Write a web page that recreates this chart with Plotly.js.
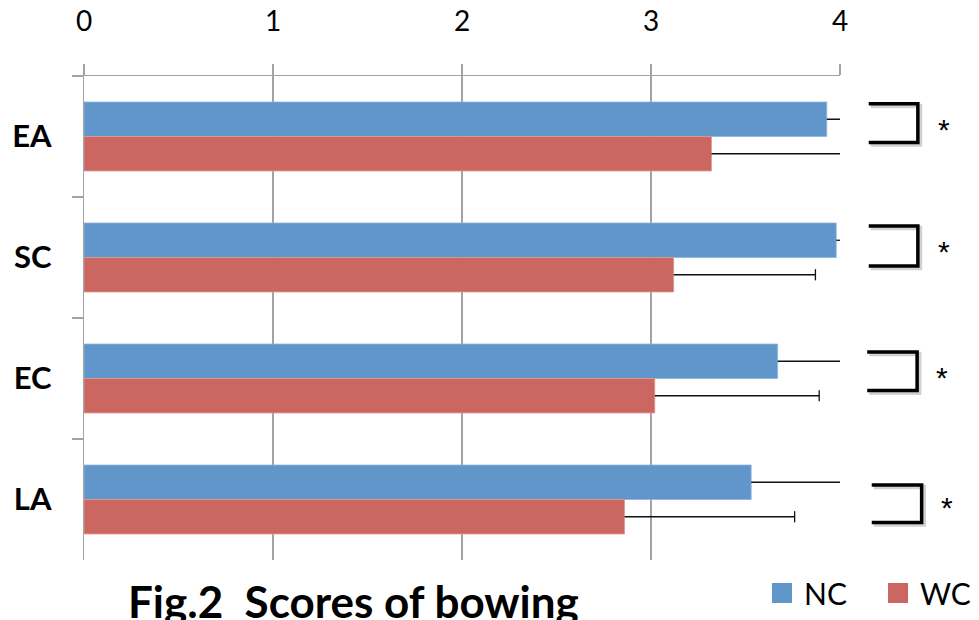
<!DOCTYPE html>
<html>
<head>
<meta charset="utf-8">
<script src="https://cdn.plot.ly/plotly-3.0.1.min.js"></script>
<style>html,body{margin:0;padding:0;background:#fff;}#chart{width:979px;height:620px;}</style>
</head>
<body>
<div id="chart"></div>
<script>
// ---- data ----
const categories = ["EA", "SC", "EC", "LA"];
const ncValues = [3.93, 3.98, 3.67, 3.53];
const wcValues = [3.32, 3.12, 3.02, 2.86];
const ncErrors = [0.25, 0.15, 0.45, 0.55];
const wcErrors = [0.75, 0.75, 0.87, 0.90];
const xTicks = [0, 1, 2, 3, 4];
const seriesNames = ["NC", "WC"];
const sigMarks = ["*", "*", "*", "*"];
const titleText = "Fig.2\u00a0 Scores of bowing";

const BLUE = "#6096c9";
const RED = "#cc6660";
const GRID = "#a3a3a3";
const FONT = "Lato, 'Open Sans', 'Liberation Sans', sans-serif";
const GAP = 0.43;

const zeros = categories.map(() => 0);
const capX = (vals, errs) => vals.map((v, i) => v + errs[i]);

function barTrace(name, vals, errs, color, edge, grp) {
  return {
    type: "bar", orientation: "h", name: name, offsetgroup: grp, alignmentgroup: "a",
    y: categories, x: vals,
    marker: {color: color, line: {color: edge, width: 0.8}},
    error_x: {type: "data", symmetric: false, array: errs, arrayminus: zeros,
              color: "#111", thickness: 1.3, width: 0},
    showlegend: false, hoverinfo: "x+y"
  };
}
function capTrace(name, vals, errs, grp) {
  return {
    type: "scatter", mode: "markers", orientation: "h", name: name + " cap",
    offsetgroup: grp, alignmentgroup: "a",
    y: categories, x: capX(vals, errs),
    marker: {symbol: "line-ns", size: 8, line: {color: "#111", width: 1.3}},
    showlegend: false, hoverinfo: "skip", cliponaxis: true
  };
}

const traces = [
  barTrace(seriesNames[0], ncValues, ncErrors, BLUE, "#8fb4dc", "g1"),
  barTrace(seriesNames[1], wcValues, wcErrors, RED, "#e09a95", "g2"),
  capTrace(seriesNames[0], ncValues, ncErrors, "g1"),
  capTrace(seriesNames[1], wcValues, wcErrors, "g2")
];

// bracket layout (decorations, relative to each category band)
const brX = [[1.038, 1.103], [1.038, 1.103], [1.036, 1.102], [1.042, 1.108]];
const brY = [[-0.27, 0.05], [-0.26, 0.07], [-0.22, 0.10], [-0.12, 0.19]];
const starX = [1.1376, 1.1376, 1.135, 1.1415];
const starY = [-0.06, -0.05, -0.01, 0.07];

const shapes = [];
const annotations = [];
categories.forEach((c, i) => {
  const [xa, xb] = brX[i];
  const ya = i + brY[i][0], yb = i + brY[i][1];
  const dx = 0.0028, dy = 0.017;
  shapes.push({type: "path", xref: "paper", yref: "y", layer: "above",
    path: `M${xa + dx},${ya + dy} L${xb + dx},${ya + dy} L${xb + dx},${yb + dy} L${xa + dx},${yb + dy}`,
    line: {color: "rgba(0,0,0,0.18)", width: 4.5}});
  shapes.push({type: "path", xref: "paper", yref: "y", layer: "above",
    path: `M${xa},${ya} L${xb},${ya} L${xb},${yb} L${xa},${yb}`,
    line: {color: "#000", width: 3.5}});
  annotations.push({xref: "paper", yref: "y", x: starX[i], y: i + starY[i],
    text: sigMarks[i], showarrow: false, xanchor: "center", yanchor: "middle",
    font: {family: "'Liberation Sans', Arial, sans-serif", size: 30, color: "#000"}});
});

// custom legend
const legendColors = [BLUE, RED];
const legendSqX = [0.910, 1.0635];
seriesNames.forEach((n, i) => {
  shapes.push({type: "rect", xref: "paper", yref: "paper",
    x0: legendSqX[i], x1: legendSqX[i] + 0.0265, y0: -0.0475, y1: -0.0888,
    fillcolor: legendColors[i], line: {width: 0}});
  annotations.push({xref: "paper", yref: "paper", x: legendSqX[i] + 0.0395, y: -0.068,
    text: n, showarrow: false, xanchor: "left", yanchor: "middle",
    font: {family: FONT, size: 30, color: "#000"}});
});

// figure caption (partly cut by the bottom edge, as in the reference)
annotations.push({xref: "paper", yref: "paper", x: 0.356, y: -0.027,
  text: "<b>" + titleText + "</b>", showarrow: false, xanchor: "center", yanchor: "top",
  font: {family: FONT, size: 44, color: "#000"}});

const layout = {
  width: 979, height: 620,
  margin: {l: 84, r: 139, t: 76, b: 60, pad: 0},
  paper_bgcolor: "#fff", plot_bgcolor: "#fff",
  barmode: "group", bargap: GAP, bargroupgap: 0,
  scattermode: "group", scattergap: GAP,
  showlegend: false,
  xaxis: {
    side: "top", range: [0, 4], tickvals: xTicks, ticktext: xTicks.map(String),
    ticks: "outside", ticklen: 11, tickcolor: GRID, tickwidth: 1.3,
    showgrid: true, gridcolor: GRID, gridwidth: 1.3,
    showline: true, linecolor: GRID, linewidth: 1.3,
    zeroline: false, ticklabelstandoff: 22,
    tickfont: {family: FONT, size: 28, color: "#000"}, fixedrange: true
  },
  yaxis: {
    type: "category", categoryorder: "array", categoryarray: categories,
    autorange: "reversed", tickson: "boundaries",
    ticks: "outside", ticklen: 11, tickcolor: GRID, tickwidth: 1.3,
    showgrid: false, showline: true, linecolor: GRID, linewidth: 1.3,
    zeroline: false, ticklabelstandoff: 25,
    tickfont: {family: FONT, size: 31, color: "#000", weight: "bold"}, fixedrange: true
  },
  shapes: shapes,
  annotations: annotations
};

Plotly.newPlot("chart", traces, layout, {displayModeBar: false, staticPlot: true});
</script>
</body>
</html>
